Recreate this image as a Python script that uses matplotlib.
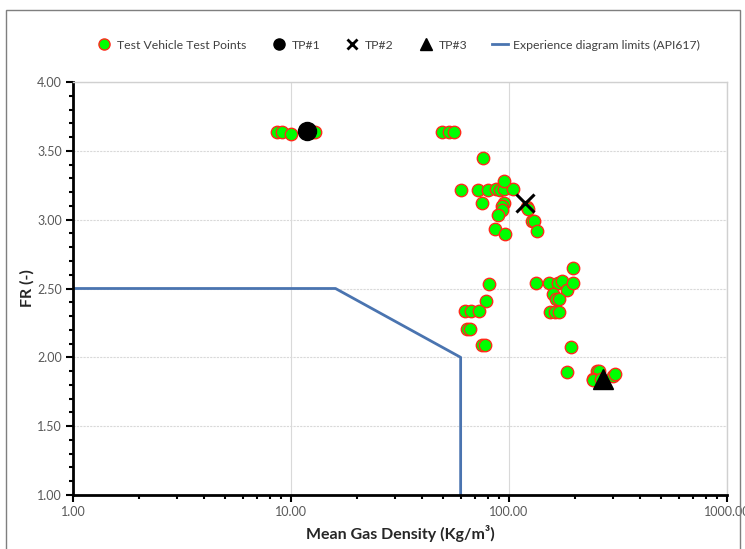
import matplotlib
matplotlib.use("Agg")
import matplotlib.pyplot as plt
from matplotlib.patches import Rectangle
from matplotlib.ticker import FixedLocator, MultipleLocator, FuncFormatter, LogLocator, NullFormatter
from matplotlib.lines import Line2D

plt.rcParams['font.family'] = ['Lato', 'DejaVu Sans']

# Test vehicle test points (mean gas density kg/m3, FR)
tv_x = [8.6, 9.1, 10.0, 12.5, 12.9,
        49.3, 53.1, 55.9,
        76.0,
        60.2, 72.1, 80.1, 87.2, 91.0, 94.9, 104.7, 94.9,
        74.9, 94.9, 92.5, 92.5, 89.3, 120.5, 122.0,
        127.0, 130.6, 134.9, 86.3, 95.9,
        81.2, 78.4, 62.8, 66.9, 72.8, 63.9, 66.2, 74.9, 77.6,
        132.5, 153.0, 167.2, 174.3, 184.0, 197.2, 197.2, 159.8, 164.3, 170.0,
        154.0, 162.5, 169.6, 192.4, 184.0,
        252.6, 259.6, 243.6, 301.0, 306.0, 241.9, 265.0]
tv_y = [3.637, 3.637, 3.622, 3.637, 3.637,
        3.637, 3.637, 3.637,
        3.448,
        3.216, 3.216, 3.216, 3.22, 3.216, 3.22, 3.22, 3.281,
        3.123, 3.123, 3.10, 3.07, 3.034, 3.094, 3.08,
        2.99, 2.99, 2.92, 2.93, 2.896,
        2.531, 2.41, 2.339, 2.339, 2.339, 2.204, 2.204, 2.09, 2.09,
        2.538, 2.538, 2.538, 2.555, 2.49, 2.538, 2.647, 2.458, 2.424, 2.424,
        2.332, 2.332, 2.332, 2.073, 1.892,
        1.904, 1.904, 1.84, 1.865, 1.877, 1.836, 1.84]

tp1_x, tp1_y = [11.8], [3.644]
tp2_x, tp2_y = [118.4], [3.123]
tp3_x, tp3_y = [271.0], [1.845]

# API617 experience diagram limits
lim_x = [1.0, 16.0, 60.0, 60.0]
lim_y = [2.5, 2.5, 2.0, 1.0]

x_ticks = [1, 10, 100, 1000]
x_tick_labels = ["1.00", "10.00", "100.00", "1000.00"]
y_ticks = [1.0, 1.5, 2.0, 2.5, 3.0, 3.5, 4.0]

W, H = 745, 549
fig = plt.figure(figsize=(W / 100, H / 100), dpi=100)
ax = fig.add_axes([73 / W, 1 - 495 / H, (727 - 73) / W, (495 - 82) / H])

# figure border
fig.patches.append(Rectangle((6 / W, -0.02), (740 - 6) / W, 1.02 - 10 / H,
                             transform=fig.transFigure, fill=False,
                             edgecolor='#7f7f7f', linewidth=1.0))

ax.set_xscale('log')
ax.set_xlim(1, 1000)
ax.set_ylim(1, 4)

ax.grid(True, axis='x', which='major', color='#d9d9d9', linewidth=0.8, linestyle='-')
ax.grid(True, axis='y', which='major', color='#d9d9d9', linewidth=0.8, linestyle=(0, (2, 1)))
ax.set_axisbelow(True)

ax.plot(lim_x, lim_y, color='#4a74b0', linewidth=2.0, zorder=2)
ax.scatter(tv_x, tv_y, s=80, facecolor='#00ff00', edgecolor='#ff2a1a', linewidth=1.0, zorder=3)
ax.plot(tp1_x, tp1_y, 'o', color='black', markersize=13, zorder=4)
ax.plot(tp2_x, tp2_y, 'x', color='black', markersize=13, markeredgewidth=2.2, zorder=4)
ax.plot(tp3_x, tp3_y, '^', color='black', markersize=14, zorder=4)

ax.xaxis.set_major_locator(FixedLocator(x_ticks))
ax.set_xticklabels(x_tick_labels)
ax.xaxis.set_minor_locator(LogLocator(base=10, subs=range(2, 10)))
ax.xaxis.set_minor_formatter(NullFormatter())
ax.yaxis.set_major_locator(FixedLocator(y_ticks))
ax.yaxis.set_major_formatter(FuncFormatter(lambda v, p: f"{v:.2f}"))
ax.yaxis.set_minor_locator(MultipleLocator(0.1))

for s in ['left', 'bottom']:
    ax.spines[s].set_color('black')
    ax.spines[s].set_linewidth(2.0)
for s in ['top', 'right']:
    ax.spines[s].set_color('#d0d0d0')
    ax.spines[s].set_linewidth(1.0)

ax.tick_params(axis='both', which='major', direction='out', length=5, width=1.5,
               color='black', labelsize=9, labelcolor='#595959', pad=3)
ax.tick_params(axis='both', which='minor', direction='out', length=3, width=1.5, color='black')

ax.set_xlabel('Mean Gas Density (Kg/m³)', fontsize=11.5, fontweight='bold', color='#262626', labelpad=5)
ax.set_ylabel('FR (-)', fontsize=11.5, fontweight='bold', color='#262626', labelpad=2)

handles = [
    Line2D([], [], linestyle='none', marker='o', markersize=8, markerfacecolor='#00ff00',
           markeredgecolor='#ff2a1a', markeredgewidth=1.0),
    Line2D([], [], linestyle='none', marker='o', markersize=8, color='black'),
    Line2D([], [], linestyle='none', marker='x', markersize=7, color='black', markeredgewidth=2),
    Line2D([], [], linestyle='none', marker='^', markersize=8, color='black'),
    Line2D([], [], color='#4a74b0', linewidth=2.0),
]
labels = ['Test Vehicle Test Points', 'TP#1', 'TP#2', 'TP#3', 'Experience diagram limits (API617)']
fig.legend(handles, labels, loc='center', bbox_to_anchor=(398 / W, 1 - 45 / H), ncol=5,
           frameon=False, fontsize=8.8, handlelength=1.3, handletextpad=0.4,
           columnspacing=2.0, labelcolor='#404040')

fig.savefig('out.png', dpi=100)
